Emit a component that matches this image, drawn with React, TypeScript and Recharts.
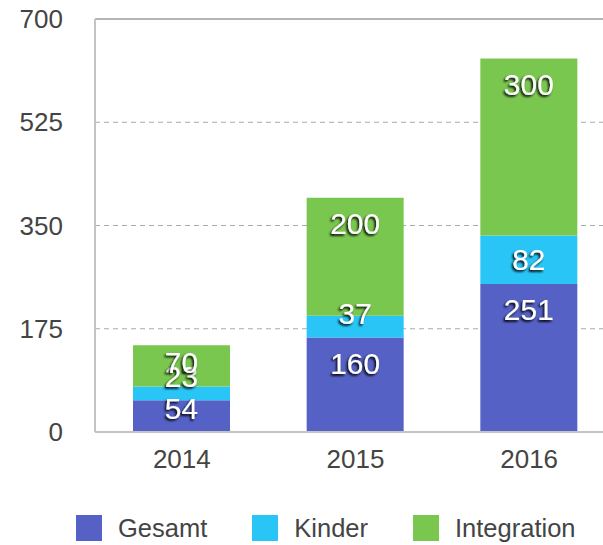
import { Bar, BarChart, CartesianGrid, LabelList, Legend, ReferenceLine, XAxis, YAxis } from 'recharts';

const years = ['2014', '2015', '2016'];
const gesamt = [54, 160, 251];
const kinder = [23, 37, 82];
const integration = [70, 200, 300];
const yTicks = [0, 175, 350, 525, 700];

const SERIES = [
    { key: 'Gesamt', values: gesamt, color: '#5561c4' },
    { key: 'Kinder', values: kinder, color: '#29c5f6' },
    { key: 'Integration', values: integration, color: '#7ac74f' },
];

const FONT = '"Liberation Sans", Arial, sans-serif';

const data = years.map((year, i) => ({
    year,
    Gesamt: gesamt[i],
    Kinder: kinder[i],
    Integration: integration[i],
}));

// label sits near the top of its segment, but never lower than the segment allows
const renderLabel = (props: any) => {
    const { x, y, width, height, value } = props;
    const cy = Math.min(y + 26, y + height - 24);
    return (
        <text
            x={x + width / 2}
            y={cy}
            textAnchor="middle"
            dominantBaseline="central"
            fill="#fff"
            fontSize={30}
            fontFamily={FONT}
            filter="url(#labelShadow)"
        >
            {value}
        </text>
    );
};

const renderLegend = () => (
    <div style={{ display: 'flex', alignItems: 'center', height: 30, fontFamily: FONT, fontSize: 25.5, color: '#444' }}>
        {SERIES.map((s, i) => (
            <div key={s.key} style={{ display: 'flex', alignItems: 'center', marginRight: i < SERIES.length - 1 ? 45 : 0 }}>
                <span style={{ width: 26, height: 26, background: s.color, display: 'inline-block', marginRight: 16 }} />
                <span>{s.key}</span>
            </div>
        ))}
    </div>
);

export default function App() {
    return (
        <div style={{ position: 'fixed', left: 0, top: 0, width: 603, height: 545, overflow: 'hidden', background: '#fff' }}>
            <BarChart
                width={616}
                height={545}
                data={data}
                margin={{ top: 19, right: 0, left: 0, bottom: 2 }}
                barSize={97}
            >
                <defs>
                    <filter id="labelShadow" x="-20%" y="-20%" width="140%" height="140%">
                        <feDropShadow dx={-1.5} dy={1.8} stdDeviation={1.1} floodColor="#000" floodOpacity={1} />
                    </filter>
                </defs>
                <CartesianGrid vertical={false} stroke="#aaa" strokeDasharray="5 4" />
                <ReferenceLine y={700} stroke="#b5b5b5" strokeWidth={2} />
                <XAxis
                    dataKey="year"
                    height={81}
                    axisLine={{ stroke: '#c4c4c4', strokeWidth: 2 }}
                    tickLine={false}
                    tickSize={0}
                    tickMargin={18}
                    tick={{ fill: '#444', fontSize: 26, fontFamily: FONT }}
                />
                <YAxis
                    width={95}
                    domain={[0, 700]}
                    ticks={yTicks}
                    axisLine={{ stroke: '#c4c4c4', strokeWidth: 2 }}
                    tickLine={false}
                    tickSize={0}
                    tickMargin={32}
                    tick={{ fill: '#444', fontSize: 26, fontFamily: FONT }}
                />
                <Legend verticalAlign="bottom" align="left" content={renderLegend} wrapperStyle={{ left: 76, width: 'auto' }} />
                {SERIES.map((s) => (
                    <Bar key={s.key} dataKey={s.key} stackId="a" fill={s.color} isAnimationActive={false}>
                        <LabelList dataKey={s.key} content={renderLabel} />
                    </Bar>
                ))}
            </BarChart>
        </div>
    );
}
